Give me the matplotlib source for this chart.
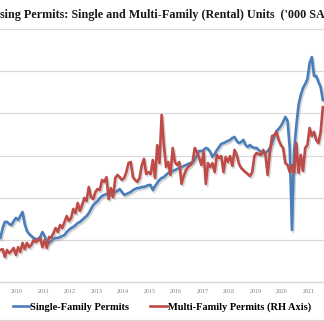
import matplotlib
matplotlib.use("Agg")
import matplotlib.pyplot as plt
import matplotlib.patheffects as pe
from matplotlib.lines import Line2D
import numpy as np
import pandas as pd

# ---------------- data ----------------
# monthly observations, May 2009 .. Jul 2021
months = pd.period_range("2009-05", periods=147, freq="M")

single_family = [  # '000 SAAR, left axis
    409, 456, 485, 485, 475, 470, 489, 504, 494, 513, 532, 475, 442, 428, 418, 409,
    404, 404, 413, 437, 418, 390, 385, 394, 404, 409, 409, 413, 418, 423, 437, 447,
    456, 461, 470, 480, 485, 494, 504, 513, 527, 546, 565, 575, 584, 598, 608, 613,
    617, 622, 613, 622, 627, 632, 641, 627, 613, 617, 622, 627, 636, 641, 646, 646,
    651, 651, 655, 660, 660, 636, 655, 670, 684, 693, 698, 708, 717, 726, 726, 731,
    736, 741, 745, 750, 755, 760, 764, 769, 779, 802, 821, 821, 826, 836, 831, 817,
    793, 807, 826, 840, 855, 859, 864, 869, 874, 883, 888, 869, 859, 864, 874, 850,
    840, 850, 840, 836, 836, 826, 817, 812, 812, 821, 836, 859, 888, 916, 926, 940,
    959, 983, 964, 836, 447, 826, 945, 1040, 1087, 1120, 1139, 1163, 1239, 1267, 1177, 1177,
    1149, 1125, 1063,
]

multi_family = [  # '000 SAAR, right axis
    114, 117, 89, 114, 103, 110, 121, 96, 124, 107, 139, 117, 139, 124, 132, 149,
    142, 149, 157, 124, 149, 121, 160, 157, 174, 192, 178, 203, 192, 213, 235, 217,
    228, 260, 245, 281, 253, 274, 299, 288, 338, 302, 295, 320, 331, 327, 363, 356,
    373, 295, 334, 302, 370, 381, 373, 363, 370, 391, 423, 427, 373, 363, 356, 370,
    416, 438, 384, 391, 384, 434, 370, 487, 423, 594, 487, 409, 427, 381, 477, 427,
    416, 427, 349, 377, 398, 409, 416, 427, 477, 462, 441, 416, 462, 349, 423, 409,
    423, 391, 452, 441, 448, 391, 445, 427, 448, 413, 470, 452, 420, 406, 398, 391,
    384, 377, 391, 448, 459, 455, 452, 470, 452, 381, 462, 519, 523, 534, 505, 487,
    477, 423, 416, 391, 416, 388, 494, 388, 452, 395, 477, 487, 548, 519, 534, 505,
    494, 534, 622,
]

years = list(range(2010, 2022))
title = "US Housing Permits: Single and Multi-Family (Rental) Units  ('000 SAAR)"
title_prefix_hidden = "US Hou"
labels = ["Single-Family Permits", "Multi-Family Permits (RH Axis)"]

# ---------------- style ----------------
BLUE = "#4A7EBB"
RED = "#BE4B48"
GRID = "#D9D9D9"
SERIF = ["Liberation Serif", "DejaVu Serif"]

W, H = 324, 321
fig = plt.figure(figsize=(W / 100, H / 100), dpi=100)

x = np.array([p.year + (p.month - 0.5) / 12 for p in months])

def fy(py):
    return (H - py) / H

ax = fig.add_axes([0, fy(282), 1, fy(29) - fy(282)])
ax2 = ax.twinx()

shadow = [pe.SimpleLineShadow(offset=(1.0, -1.3), shadow_color="#888888", alpha=0.35),
          pe.Normal()]

ax.plot(x, single_family, color=BLUE, lw=1.9, solid_joinstyle="round",
        path_effects=shadow, zorder=3)
ax2.plot(x, multi_family, color=RED, lw=1.9, solid_joinstyle="round",
         path_effects=shadow, zorder=3)

ax.set_xlim(2010 - 17 / 26.5, 2010 + 307 / 26.5)
ax.set_ylim(200, 1400)
ax2.set_ylim(0, 900)
ax.set_yticks(np.arange(200, 1401, 200))
ax.yaxis.grid(True, color=GRID, lw=0.9)
ax.set_axisbelow(True)
ax.tick_params(axis="y", left=False, labelleft=False)
ax2.tick_params(axis="y", right=False, labelright=False)
ax2.set_yticks([])

ax.set_xticks(years)
ax.set_xticklabels([str(y) for y in years], family=SERIF, fontsize=4.3, color="#7F7F7F")
ax.tick_params(axis="x", length=0, pad=5)

for a in (ax, ax2):
    for s in ("left", "right", "top"):
        a.spines[s].set_visible(False)
    a.spines["bottom"].set_color(GRID)
    a.spines["bottom"].set_linewidth(0.9)
    a.patch.set_visible(False)

# title (left part cropped off, as in the reference)
TFS = 8.7
fig.canvas.draw()
r = fig.canvas.get_renderer()
probe = fig.text(0, 0, title_prefix_hidden, family=SERIF, fontsize=TFS, fontweight="bold")
wpx = probe.get_window_extent(r).width
probe.remove()
fig.text(-wpx / W, fy(15), title, family=SERIF, fontsize=TFS, fontweight="bold",
         color="#1a1a1a", ha="left", va="center")

# bottom border
fig.add_artist(Line2D([0, 1], [fy(320), fy(320)], color=GRID, lw=0.9))

handles = [Line2D([], [], color=BLUE, lw=1.9), Line2D([], [], color=RED, lw=1.9)]
fig.legend(handles, labels, loc="center", bbox_to_anchor=(0.5, fy(307)), ncol=2,
           frameon=False, prop={"family": SERIF, "size": 7.5, "weight": "bold"},
           handlelength=1.6, handletextpad=0.1, columnspacing=2.0, borderpad=0)

fig.savefig("out.png", dpi=100)
